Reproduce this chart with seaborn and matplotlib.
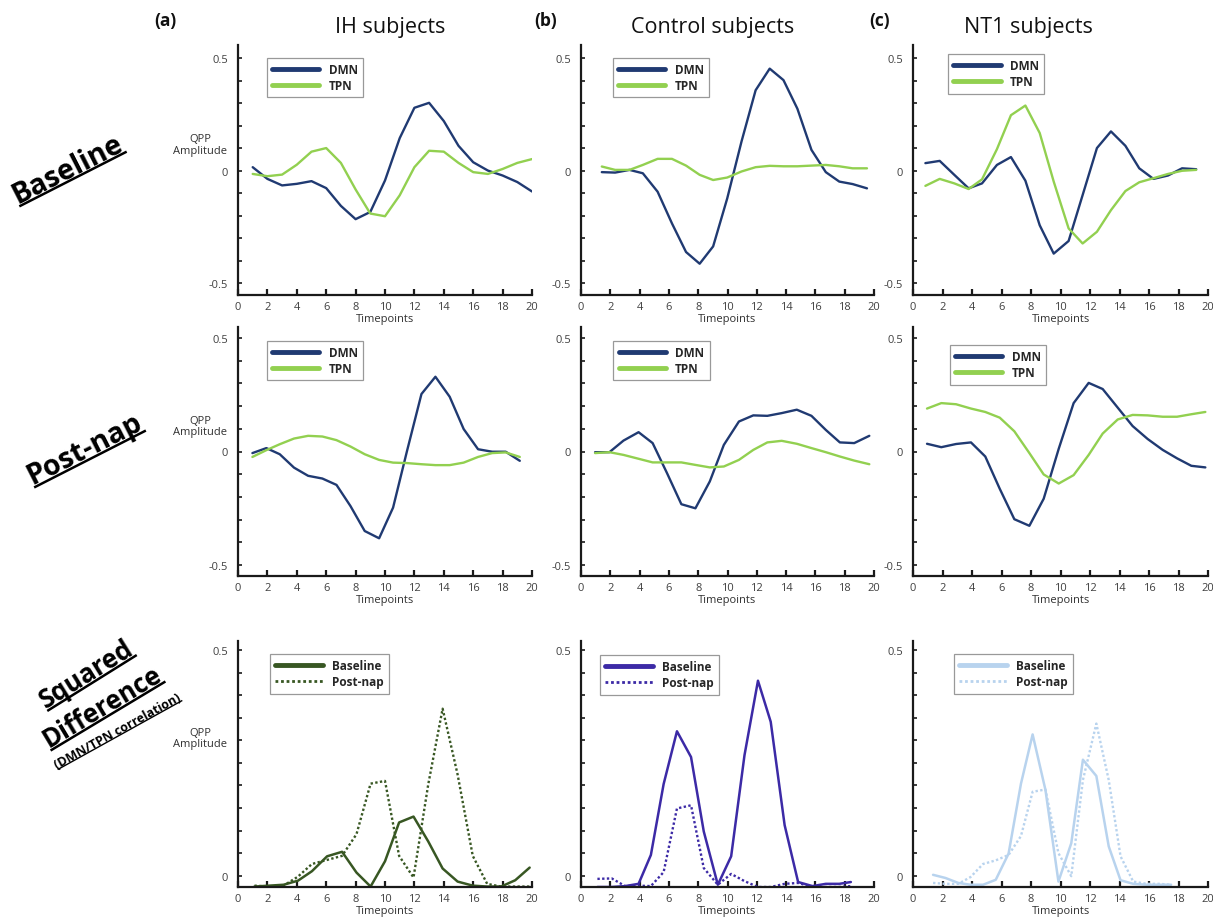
import numpy as np
import pandas as pd
import matplotlib
matplotlib.use("Agg")
import matplotlib.pyplot as plt
import seaborn as sns
from matplotlib.lines import Line2D

# ---------------- data ----------------
ih_base_x = [1, 2, 3, 4, 5, 6, 7, 8, 9, 10, 11, 12, 13, 14, 15, 16, 17, 18, 19, 20]
ih_base_dmn = [0.015, -0.037, -0.066, -0.059, -0.047, -0.078, -0.157, -0.216, -0.184, -0.044,
               0.144, 0.279, 0.301, 0.220, 0.110, 0.037, 0.000, -0.022, -0.051, -0.093]
ih_base_tpn = [-0.015, -0.025, -0.018, 0.026, 0.084, 0.100, 0.034, -0.084, -0.191, -0.203,
               -0.110, 0.015, 0.088, 0.084, 0.034, -0.007, -0.015, 0.007, 0.034, 0.051]

ctl_base_x = [1.42, 2.33, 3.31, 4.22, 5.23, 6.21, 7.17, 8.10, 9.02, 9.98,
              10.96, 11.92, 12.88, 13.82, 14.77, 15.73, 16.71, 17.63, 18.54, 19.52]
ctl_base_dmn = [-0.007, -0.009, 0.003, -0.012, -0.094, -0.235, -0.362, -0.414, -0.337, -0.124,
                0.130, 0.357, 0.453, 0.402, 0.275, 0.092, -0.007, -0.049, -0.060, -0.079]
ctl_base_tpn = [0.018, 0.003, 0.003, 0.025, 0.052, 0.052, 0.022, -0.019, -0.042, -0.031,
                -0.004, 0.015, 0.021, 0.019, 0.019, 0.022, 0.025, 0.019, 0.010, 0.010]

nt1_base_x = [0.84, 1.81, 2.80, 3.77, 4.68, 5.69, 6.64, 7.62, 8.59, 9.54,
              10.55, 11.50, 12.47, 13.42, 14.40, 15.34, 16.30, 17.29, 18.24, 19.20]
nt1_base_dmn = [0.033, 0.043, -0.019, -0.079, -0.057, 0.025, 0.060, -0.045, -0.243, -0.369,
                -0.313, -0.109, 0.100, 0.174, 0.110, 0.010, -0.037, -0.022, 0.010, 0.006]
nt1_base_tpn = [-0.068, -0.037, -0.057, -0.082, -0.039, 0.095, 0.246, 0.289, 0.167, -0.049,
                -0.257, -0.324, -0.272, -0.176, -0.091, -0.052, -0.034, -0.015, -0.001, 0.003]

ih_post_x = [0.98, 1.93, 2.84, 3.81, 4.77, 5.74, 6.70, 7.65, 8.62, 9.60,
             10.55, 11.50, 12.48, 13.43, 14.40, 15.35, 16.33, 17.29, 18.21, 19.17]
ih_post_dmn = [-0.007, 0.015, -0.012, -0.071, -0.107, -0.119, -0.147, -0.240, -0.350, -0.382,
               -0.247, 0.003, 0.253, 0.329, 0.241, 0.099, 0.010, -0.001, -0.001, -0.041]
ih_post_tpn = [-0.024, 0.006, 0.032, 0.057, 0.069, 0.066, 0.050, 0.022, -0.012, -0.037,
               -0.049, -0.051, -0.056, -0.060, -0.060, -0.049, -0.024, -0.007, -0.004, -0.024]

ctl_post_x = [0.96, 1.94, 2.90, 3.93, 4.89, 5.87, 6.85, 7.81, 8.79, 9.75,
              10.78, 11.76, 12.72, 13.70, 14.73, 15.73, 16.71, 17.67, 18.65, 19.68]
ctl_post_dmn = [-0.003, -0.003, 0.048, 0.085, 0.037, -0.095, -0.232, -0.250, -0.132, 0.029,
                0.132, 0.159, 0.157, 0.169, 0.184, 0.157, 0.095, 0.040, 0.037, 0.069]
ctl_post_tpn = [-0.007, -0.003, -0.015, -0.032, -0.048, -0.048, -0.048, -0.059, -0.070, -0.066,
                -0.037, 0.007, 0.040, 0.047, 0.034, 0.015, -0.003, -0.022, -0.040, -0.056]

nt1_post_x = [0.95, 1.92, 2.92, 3.93, 4.90, 5.88, 6.87, 7.89, 8.86, 9.88,
              10.89, 11.91, 12.86, 13.88, 14.89, 15.91, 16.93, 17.90, 18.87, 19.82]
nt1_post_dmn = [0.034, 0.019, 0.033, 0.040, -0.022, -0.164, -0.298, -0.327, -0.208, 0.012,
                0.213, 0.302, 0.275, 0.193, 0.112, 0.055, 0.007, -0.030, -0.063, -0.070]
nt1_post_tpn = [0.189, 0.213, 0.208, 0.189, 0.174, 0.149, 0.089, -0.007, -0.101, -0.141,
                -0.104, -0.015, 0.079, 0.141, 0.161, 0.159, 0.153, 0.153, 0.164, 0.174]

ih_sq_x = [1.12, 2.12, 3.10, 4.08, 5.03, 6.06, 7.08, 8.06, 9.02, 10.00,
           10.96, 11.94, 12.94, 13.92, 14.94, 15.97, 16.95, 17.90, 18.86, 19.84]
ih_sq_base = [-0.024, -0.022, -0.020, -0.011, 0.010, 0.043, 0.053, 0.007, -0.024, 0.032,
              0.118, 0.131, 0.076, 0.016, -0.013, -0.022, -0.024, -0.024, -0.010, 0.018]
ih_sq_post = [-0.022, -0.024, -0.022, -0.002, 0.026, 0.035, 0.044, 0.092, 0.204, 0.210,
              0.044, -0.004, 0.202, 0.370, 0.224, 0.044, -0.018, -0.024, -0.024, -0.024]

ctl_sq_x = [1.12, 2.10, 3.01, 3.93, 4.77, 5.64, 6.55, 7.51, 8.38, 9.34,
            10.25, 11.16, 12.08, 12.95, 13.90, 14.82, 15.80, 16.71, 17.63, 18.42]
ctl_sq_base = [-0.025, -0.025, -0.023, -0.018, 0.046, 0.203, 0.320, 0.263, 0.098, -0.020,
               0.043, 0.267, 0.432, 0.341, 0.112, -0.014, -0.023, -0.018, -0.018, -0.014]
ctl_sq_post = [-0.007, -0.006, -0.023, -0.022, -0.023, 0.008, 0.149, 0.156, 0.017, -0.020,
               0.004, -0.012, -0.025, -0.025, -0.018, -0.016, -0.025, -0.025, -0.025, -0.023]

nt1_sq_x = [1.36, 2.20, 3.07, 3.90, 4.75, 5.61, 6.48, 7.32, 8.11, 8.98,
            9.86, 10.73, 11.52, 12.43, 13.27, 14.07, 14.93, 15.84, 16.70, 17.50]
nt1_sq_base = [0.002, -0.005, -0.016, -0.020, -0.020, -0.009, 0.049, 0.204, 0.313, 0.190,
               -0.013, 0.072, 0.257, 0.221, 0.065, -0.010, -0.018, -0.020, -0.020, -0.020]
nt1_sq_post = [-0.016, -0.018, -0.018, -0.003, 0.026, 0.034, 0.046, 0.088, 0.186, 0.191,
               0.050, -0.001, 0.212, 0.337, 0.212, 0.043, -0.013, -0.018, -0.018, -0.020]

col_titles = ["IH subjects", "Control subjects", "NT1 subjects"]
panel_letters = ["(a)", "(b)", "(c)"]
x_ticks = [0, 2, 4, 6, 8, 10, 12, 14, 16, 18, 20]
net_labels = ["DMN", "TPN"]
cond_labels = ["Baseline", "Post-nap"]

# ---------------- style ----------------
sns.set_style("ticks")
plt.rcParams["font.family"] = ["Open Sans", "DejaVu Sans"]

W, H = 1213, 920
fig = plt.figure(figsize=(W / 100, H / 100), dpi=100)

DMN_C = "#203a72"
TPN_C = "#92d050"
SQ_C = ["#385723", "#3c2aa6", "#b8d3ee"]
TICK_C = "#404040"

col_px = [(238, 532), (581, 874), (913, 1208)]
row_px = [(46, 296), (328, 577), (642, 888)]
row_ylim = [(-0.553, 0.558), (-0.548, 0.548), (-0.025, 0.52)]

legend_pos = [
    [(0.098, 0.95), (0.108, 0.95), (0.119, 0.964)],
    [(0.098, 0.945), (0.110, 0.945), (0.125, 0.928)],
    [(0.109, 0.947), (0.065, 0.943), (0.139, 0.947)],
]

series = [
    [(ih_base_x, ih_base_dmn, ih_base_tpn), (ctl_base_x, ctl_base_dmn, ctl_base_tpn),
     (nt1_base_x, nt1_base_dmn, nt1_base_tpn)],
    [(ih_post_x, ih_post_dmn, ih_post_tpn), (ctl_post_x, ctl_post_dmn, ctl_post_tpn),
     (nt1_post_x, nt1_post_dmn, nt1_post_tpn)],
    [(ih_sq_x, ih_sq_base, ih_sq_post), (ctl_sq_x, ctl_sq_base, ctl_sq_post),
     (nt1_sq_x, nt1_sq_base, nt1_sq_post)],
]

qpp_y = [0.117, 0.112, 0.305]

for r in range(3):
    for c in range(3):
        l, rgt = col_px[c]
        t, b = row_px[r]
        ax = fig.add_axes([l / W, 1 - b / H, (rgt - l) / W, (b - t) / H])
        xs, y1, y2 = series[r][c]
        if r < 2:
            df = pd.DataFrame({"Timepoints": xs * 2, "QPP": y1 + y2,
                               "Network": [net_labels[0]] * len(xs) + [net_labels[1]] * len(xs)})
            sns.lineplot(data=df, x="Timepoints", y="QPP", hue="Network",
                         palette={net_labels[0]: DMN_C, net_labels[1]: TPN_C},
                         estimator=None, sort=False, lw=1.7, legend=False, ax=ax)
            handles = [Line2D([], [], color=DMN_C, lw=3.5), Line2D([], [], color=TPN_C, lw=3.5)]
            labels = net_labels
        else:
            col = SQ_C[c]
            sns.lineplot(x=xs, y=y1, color=col, lw=1.8, estimator=None, sort=False, ax=ax)
            sns.lineplot(x=xs, y=y2, color=col, lw=1.7, linestyle=(0, (1, 1)),
                         estimator=None, sort=False, ax=ax)
            handles = [Line2D([], [], color=col, lw=3.5),
                       Line2D([], [], color=col, lw=2.0, linestyle=(0, (1, 1)))]
            labels = cond_labels
        ax.set_xlim(0, 20)
        ax.set_ylim(*row_ylim[r])
        ax.set_xticks(x_ticks)
        ax.set_xticklabels([str(v) for v in x_ticks])
        if r < 2:
            yt = np.round(np.arange(-0.5, 0.51, 0.1), 2)
            ylab = ["-0.5" if abs(v + 0.5) < 1e-6 else ("0" if abs(v) < 1e-6 else ("0.5" if abs(v - 0.5) < 1e-6 else "")) for v in yt]
        else:
            yt = np.round(np.arange(0, 0.51, 0.05), 2)
            ylab = ["0" if abs(v) < 1e-6 else ("0.5" if abs(v - 0.5) < 1e-6 else "") for v in yt]
        ax.set_yticks(yt)
        ax.set_yticklabels(ylab)
        ax.set_xlabel("Timepoints", fontsize=8, color="#303030", labelpad=1)
        ax.set_ylabel("")
        for s in ["top", "right"]:
            ax.spines[s].set_visible(False)
        for s in ["left", "bottom"]:
            ax.spines[s].set_linewidth(1.6)
            ax.spines[s].set_color("#1a1a1a")
        ax.tick_params(axis="x", direction="in", length=4, width=1.6, labelsize=8,
                       labelcolor=TICK_C, pad=4, color="#1a1a1a")
        ax.tick_params(axis="y", direction="in", length=3, width=1.2, labelsize=8,
                       labelcolor=TICK_C, pad=7, color="#1a1a1a")
        ax.set_facecolor("none")
        leg = ax.legend(handles, labels, loc="upper left", bbox_to_anchor=legend_pos[r][c],
                        borderaxespad=0, frameon=True, fancybox=False, handlelength=4.0,
                        handletextpad=0.8, labelspacing=0.25, borderpad=0.45,
                        prop={"weight": "bold", "size": 8.5})
        leg.get_frame().set_edgecolor("#808080")
        leg.get_frame().set_linewidth(0.9)
        if c == 0:
            ax.text(-0.129, qpp_y[r], "QPP\nAmplitude", transform=ax.get_yaxis_transform(),
                    ha="center", va="center", fontsize=8, color="#303030", linespacing=1.1)

# column titles and panel letters
title_x = [390, 713, 1028]
letter_x = [165, 546, 880]
for i in range(3):
    fig.text(title_x[i] / W, 1 - 28 / H, col_titles[i], ha="center", va="center",
             fontsize=15.5, color="#111111")
    fig.text(letter_x[i] / W, 1 - 21 / H, panel_letters[i], ha="center", va="center",
             fontsize=12.5, fontweight="bold", color="#111111")

# rotated, underlined row labels
renderer = fig.canvas.get_renderer()


def underlined(cx, cy, s, rot, size, lw, off):
    """cx, cy: pixel centre of the underline (top-left origin)."""
    th = np.radians(rot)
    tmp = fig.text(0, 0, s, fontsize=size, fontweight="bold")
    w = tmp.get_window_extent(renderer).width
    tmp.remove()
    ux, uy = cx, H - cy
    bx, by = ux - off * np.sin(th), uy + off * np.cos(th)
    fig.text(bx / W, by / H, s, rotation=rot, rotation_mode="anchor", ha="center",
             va="baseline", fontsize=size, fontweight="bold", color="black")
    dx, dy = (w / 2) * np.cos(th), (w / 2) * np.sin(th)
    fig.add_artist(Line2D([(ux - dx) / W, (ux + dx) / W], [(uy - dy) / H, (uy + dy) / H],
                          transform=fig.transFigure, color="black", lw=lw,
                          solid_capstyle="butt"))


underlined(73, 180, "Baseline", 27, 20.5, 1.8, 4)
underlined(90, 460, "Post-nap", 27, 20.5, 1.8, 4)
underlined(92, 684, "Squared", 32, 18.5, 1.8, 4)
underlined(108, 717, "Difference", 31, 18.5, 1.8, 4)
underlined(120, 736, "(DMN/TPN correlation)", 29, 9, 1.0, 2)

fig.savefig("out.png", dpi=100, facecolor="white")
